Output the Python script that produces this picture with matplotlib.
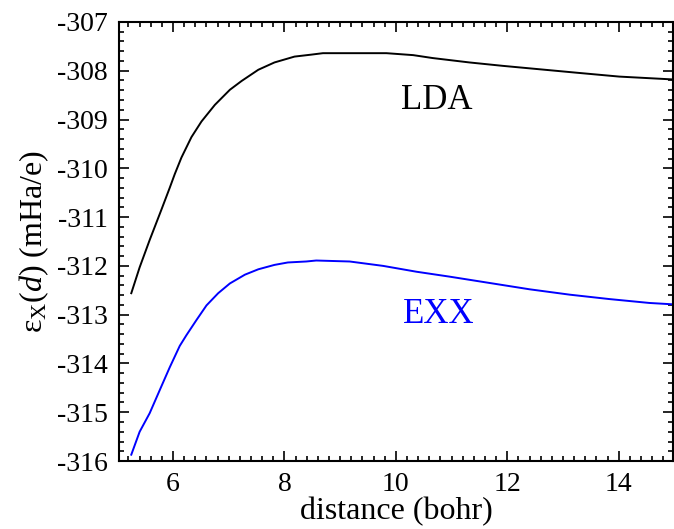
import numpy as np
import matplotlib
matplotlib.use("Agg")
import matplotlib.pyplot as plt
from matplotlib.ticker import MultipleLocator

plt.rcParams['font.family'] = ['Liberation Serif', 'DejaVu Serif']
plt.rcParams['mathtext.fontset'] = 'custom'
plt.rcParams['mathtext.rm'] = 'Liberation Serif'
plt.rcParams['mathtext.it'] = 'Liberation Serif:italic'
plt.rcParams['axes.unicode_minus'] = False

# exchange energy per electron vs. separation
d_lda = [5.25, 5.40, 5.58, 5.79, 5.94, 6.03, 6.15, 6.33, 6.51, 6.75, 7.02,
         7.23, 7.53, 7.82, 8.18, 8.48, 8.69, 9.83, 10.31, 10.66, 11.32, 11.92,
         12.58, 13.24, 14.01, 15.0]
e_lda = [-312.56, -312.03, -311.47, -310.85, -310.40, -310.12, -309.78,
         -309.36, -309.04, -308.70, -308.39, -308.21, -307.98, -307.83, -307.71,
         -307.67, -307.64, -307.64, -307.68, -307.74, -307.83, -307.90, -307.97,
         -308.04, -308.12, -308.18]

d_exx = [5.25, 5.40, 5.58, 5.79, 5.94, 6.12, 6.24, 6.42, 6.60, 6.81, 7.02, 7.29,
         7.53, 7.82, 8.06, 8.39, 8.57, 9.17, 9.77, 10.37, 10.96, 11.68, 12.40,
         13.12, 13.83, 14.55, 15.0]
e_exx = [-315.87, -315.40, -315.02, -314.47, -314.08, -313.64, -313.42, -313.11,
         -312.81, -312.56, -312.36, -312.18, -312.07, -311.98, -311.93, -311.91,
         -311.89, -311.91, -312.00, -312.12, -312.22, -312.35, -312.48, -312.59,
         -312.68, -312.76, -312.79]

fig = plt.figure(figsize=(6.74, 5.29), dpi=100)
ax = fig.add_axes([0.1766, 0.1285, 0.8224, 0.83])

ax.plot(d_lda, e_lda, color='black', lw=1.4)
ax.plot(d_exx, e_exx, color='#0000ff', lw=1.4)

ax.text(10.74, -308.6, 'LDA', fontsize=25, ha='center', va='center', color='black')
ax.text(10.77, -313.0, 'EXX', fontsize=25, ha='center', va='center', color='#0000ff')

ax.set_xlim(5.03, 14.98)
ax.set_ylim(-316, -307)
ax.xaxis.set_major_locator(MultipleLocator(2))
ax.xaxis.set_minor_locator(MultipleLocator(0.2))
ax.yaxis.set_major_locator(MultipleLocator(1))
ax.yaxis.set_minor_locator(MultipleLocator(0.2))
ax.tick_params(which='both', direction='in', top=True, right=True, width=1.2,
               labelsize=20, colors='black')
ax.tick_params(which='major', length=7, pad=8)
ax.tick_params(which='minor', length=3.5)
for s in ax.spines.values():
    s.set_linewidth(1.5)

ax.set_xlabel('distance (bohr)', fontsize=23, labelpad=0)
ax.set_ylabel(r'ε$_{\mathrm{X}}$($d$) (mHa/e)', fontsize=23, labelpad=4)

fig.savefig('out.png', dpi=100)
